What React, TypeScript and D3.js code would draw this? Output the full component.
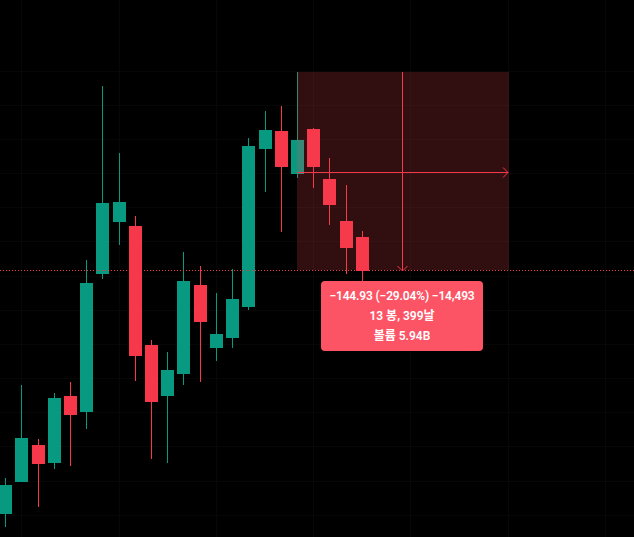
// App.tsx
import React, { useEffect, useRef } from 'react';
import * as d3 from 'd3';

const opens = [175.5, 198.9, 226, 212.8, 261.9, 250.2, 351.2, 389.2, 386.3, 299.2, 261.9, 278, 343.1, 297, 304.3, 327, 442.7, 455.8, 424.4, 457.3, 420.7, 390, 378.3];
const highs = [201.8, 269.9, 230.4, 264.1, 272.1, 361.4, 488.8, 439.7, 393.6, 302.9, 294.1, 367.3, 357, 337.3, 354.8, 450.7, 470.5, 474.1, 499, 458, 436.1, 416.3, 382.6];
const lows = [166.2, 198.9, 180.8, 208.4, 210.6, 237.7, 347.5, 372.4, 272.8, 215.8, 212.8, 269.9, 272.1, 287.5, 297, 324.8, 411.2, 381.9, 421.4, 414.1, 387, 351.2, 338];
const closes = [196.7, 231.1, 212.1, 260.4, 248, 344.6, 403.1, 403.9, 291.1, 257.5, 280.9, 346, 316, 307.3, 332.9, 444.9, 456.6, 429.5, 449.3, 429.5, 401.7, 370.2, 353.4];

const priceTicks = [175, 200, 225, 250, 275, 300, 325, 350, 375, 400, 425, 450, 475, 500];
const barTicks = [1, 7, 13, 19, 25, 31, 37];

// measure tool: from the high of bar 18, 13 bars forward
const measureFromBar = 18;
const measureToBar = 31.1;
const measureHigh = 499.03;
const measureLow = 354.1;
const tooltipLines = ['\u2212144.93 (\u221229.04%) \u221214,493', '13 봉, 399날', '볼륨 5.94B'];

const width = 634;
const height = 537;

export default function App() {
  const svgRef = useRef<SVGSVGElement>(null);

  useEffect(() => {
    if (!svgRef.current) return;
    const svg = d3.select(svgRef.current);
    svg.selectAll('*').remove();

    const colors = { up: '#089981', down: '#f7374a', box: 'rgba(245,70,80,0.2)', line: '#f7374a', tip: '#fc5465', grid: '#070707' };

    const x = d3.scaleLinear().domain([0, 22]).range([5.1, 361.83]);
    const y = d3.scaleLinear().domain([measureLow, measureHigh]).range([270, 72]);
    const px = (i: number) => Math.round(x(i));
    const py = (p: number) => Math.round(y(p));

    svg.append('rect').attr('width', width).attr('height', height).attr('fill', '#000');

    const grid = svg.append('g').attr('stroke', colors.grid).attr('shape-rendering', 'crispEdges');
    grid.selectAll('line.h').data(priceTicks).enter().append('line').attr('class', 'h')
      .attr('x1', 0).attr('x2', width).attr('y1', d => py(d) + 0.5).attr('y2', d => py(d) + 0.5);
    grid.selectAll('line.v').data(barTicks).enter().append('line').attr('class', 'v')
      .attr('y1', 0).attr('y2', height).attr('x1', d => px(d) + 0.5).attr('x2', d => px(d) + 0.5);

    const candles = opens.map((o, i) => ({ i, o, h: highs[i], l: lows[i], c: closes[i] }));
    const g = svg.append('g').attr('shape-rendering', 'crispEdges');
    const bar = g.selectAll('g').data(candles).enter().append('g')
      .attr('fill', d => (d.c >= d.o ? colors.up : colors.down));
    bar.append('rect').attr('x', d => px(d.i)).attr('width', 1)
      .attr('y', d => py(d.h)).attr('height', d => py(d.l) - py(d.h));
    bar.append('rect').attr('x', d => px(d.i) - 6).attr('width', 13)
      .attr('y', d => py(Math.max(d.o, d.c))).attr('height', d => py(Math.min(d.o, d.c)) - py(Math.max(d.o, d.c)));

    // last price line
    svg.append('line').attr('x1', 0).attr('x2', width).attr('y1', 270.5).attr('y2', 270.5)
      .attr('stroke', colors.line).attr('stroke-dasharray', '1,2').attr('shape-rendering', 'crispEdges');

    // measure box
    const left = px(measureFromBar);
    const right = px(measureToBar);
    const top = py(measureHigh);
    const bottom = py(measureLow);
    const midX = Math.round((left + right) / 2) - 1 + 0.5;
    const midY = Math.round((top + bottom) / 2) + 1 + 0.5;
    svg.append('rect').attr('x', left).attr('y', top).attr('width', right - left).attr('height', bottom - top).attr('fill', colors.box);

    const m = svg.append('g').attr('stroke', colors.line).attr('fill', 'none').attr('stroke-width', 1);
    m.append('line').attr('x1', midX).attr('x2', midX).attr('y1', top).attr('y2', bottom).attr('shape-rendering', 'crispEdges');
    m.append('line').attr('x1', left).attr('x2', right - 1).attr('y1', midY).attr('y2', midY).attr('shape-rendering', 'crispEdges');
    const chevron = d3.line();
    m.append('path').attr('d', chevron([[right - 6, midY - 5], [right - 1, midY], [right - 6, midY + 5]]));
    m.append('path').attr('d', chevron([[midX - 5, bottom - 4], [midX, bottom + 1], [midX + 5, bottom - 4]]));

    // tooltip
    svg.append('rect').attr('x', 321).attr('y', 281).attr('width', 162).attr('height', 70).attr('rx', 4).attr('fill', colors.tip);
    svg.append('g').selectAll('text').data(tooltipLines).enter().append('text')
      .attr('x', 402).attr('y', (_, i) => 300 + i * 20).attr('text-anchor', 'middle').attr('fill', '#fff')
      .style('font-family', 'Roboto, "Noto Sans CJK KR", sans-serif').style('font-size', '12px').style('font-weight', '600')
      .style('letter-spacing', (_, i) => (i === 0 ? '-0.15px' : '0'))
      .text(d => d);
  }, []);

  return <svg ref={svgRef} width={width} height={height} style={{ position: 'absolute', left: 0, top: 0, display: 'block' }} />;
}
